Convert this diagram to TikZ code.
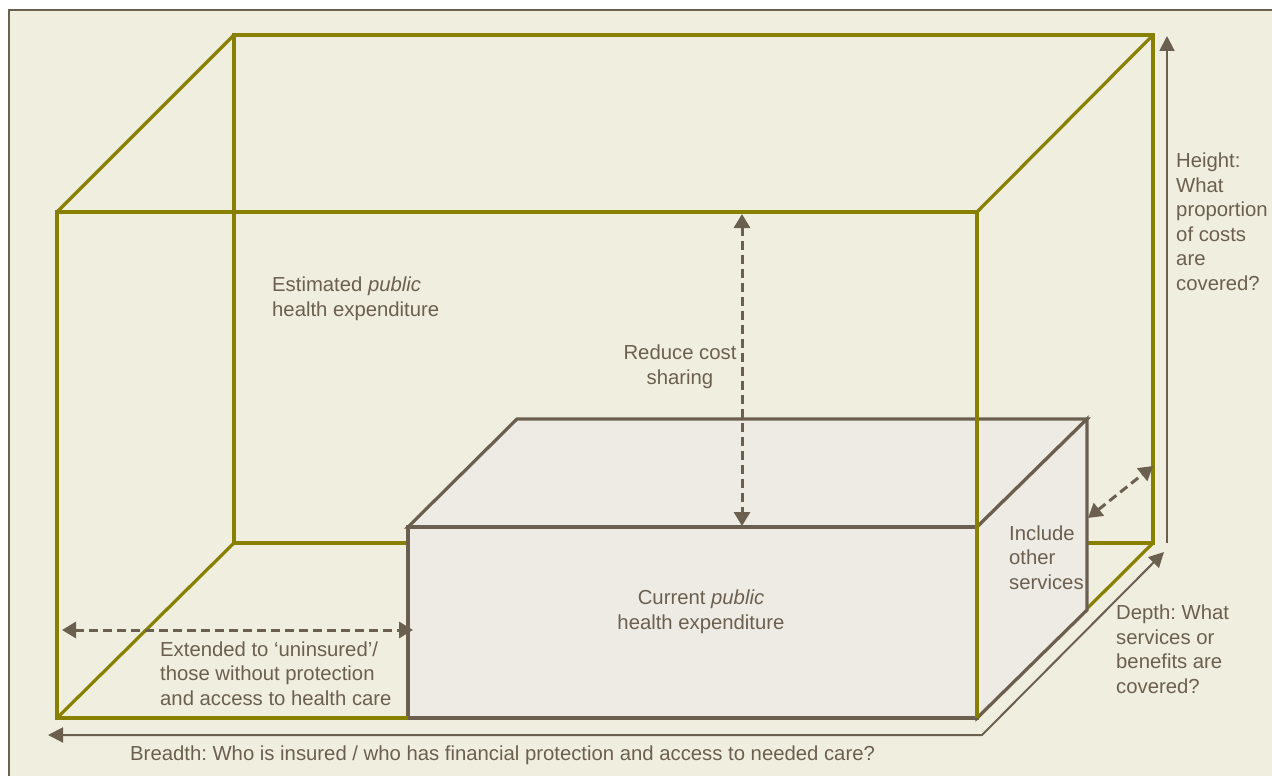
\documentclass[tikz,border=0pt]{standalone}
\usepackage{fontspec}
\setmainfont{Liberation Sans}
\usetikzlibrary{arrows.meta}
\definecolor{bg}{RGB}{240,238,222}
\definecolor{olv}{RGB}{136,128,0}
\definecolor{brn}{RGB}{107,96,80}
\definecolor{innerfill}{RGB}{238,235,229}
\frenchspacing
\begin{document}
\begin{tikzpicture}[x=1pt,y=-1pt,
  olive edge/.style={draw=olv,line width=3.2pt,line join=miter},
  inner edge/.style={draw=brn,line width=3.2pt,fill=innerfill,line join=miter},
  solid arrow/.style={draw=brn,line width=2pt},
  dashed arrow/.style={draw=brn,line width=3pt,dash pattern=on 9pt off 5pt,{Triangle[length=14pt,width=16pt]}-{Triangle[length=14pt,width=16pt]}},
  label/.style={text=brn,font=\fontsize{20.3}{24.5}\selectfont\frenchspacing,inner sep=0pt,align=left,anchor=base west},
  clabel/.style={text=brn,font=\fontsize{20.3}{24.5}\selectfont\frenchspacing,inner sep=0pt,align=center,anchor=base}]
\useasboundingbox (0,0) rectangle (1272,776);
\fill[white] (0,0) rectangle (1272,776);
\begin{scope}
\clip (0,0) rectangle (1272,776);
\draw[draw=brn,line width=2pt,fill=bg] (9,10) rectangle (1300,800);
\end{scope}
% outer box corners
\coordinate (F1) at (57,212);
\coordinate (F2) at (977,212);
\coordinate (F3) at (977,718);
\coordinate (F4) at (57,718);
\coordinate (B1) at (234,35);
\coordinate (B2) at (1153,35);
\coordinate (B3) at (1153,543);
\coordinate (B4) at (234,543);
% inner box corners
\coordinate (I1) at (408,527);
\coordinate (I2) at (977,527);
\coordinate (I3) at (977,718);
\coordinate (I4) at (408,718);
\coordinate (J1) at (517,419);
\coordinate (J2) at (1087,419);
\coordinate (J3) at (1087,610);
% back of outer box
\draw[olive edge] (B1) -- (B2) -- (B3) -- (B4) -- cycle;
\draw[olive edge] (F1) -- (B1);
\draw[olive edge] (F2) -- (B2);
\draw[olive edge] (F3) -- (B3);
\draw[olive edge] (F4) -- (B4);
% inner box
\draw[inner edge] (I1) -- (J1) -- (J2) -- (I2) -- cycle;
\draw[inner edge] (I2) -- (J2) -- (J3) -- (I3) -- cycle;
\draw[inner edge] (I1) -- (I2) -- (I3) -- (I4) -- cycle;
% front of outer box
\draw[olive edge] (I4) -- (F4) -- (F1) -- (F2) -- (F3);
% axis arrows
\coordinate (hb) at (1167,543);
\coordinate (ht) at (1167,36);
\draw[solid arrow,-{Triangle[length=15pt,width=15pt]}] (hb) -- (ht);
\coordinate (bl) at (48,735);
\coordinate (bc) at (982,735);
\coordinate (dt) at (1164,552);
\draw[solid arrow,line join=miter,{Triangle[length=15pt,width=15pt]}-{Triangle[length=15pt,width=15pt]}] (bl) -- (bc) -- (dt);
% dashed arrows
\coordinate (rt) at (742,214);
\coordinate (rb) at (742,526);
\draw[dashed arrow] (rt) -- (rb);
\coordinate (el) at (62,630);
\coordinate (er) at (413,630);
\draw[dashed arrow] (el) -- (er);
\coordinate (ds) at (1088,518);
\coordinate (de) at (1153,466);
\draw[dashed arrow] (ds) -- (de);
% labels (anchored at the baseline of their last line)
\node[label] (est) at (272,316) {Estimated \textit{public}\\health expenditure};
\node[clabel] (red) at (680,384) {Reduce cost\\sharing};
\node[clabel] (cur) at (701,629) {Current \textit{public}\\health expenditure};
\node[label] (inc) at (1009,589) {Include\\other\\services};
\node[label] (hgt) at (1176,290) {Height:\\What\\proportion\\of costs\\are\\covered?};
\node[label] (dep) at (1116,693) {Depth: What\\services or\\benefits are\\covered?};
\node[label] (ext) at (160,705) {Extended to ‘uninsured’/\\those without protection\\and access to health care};
\node[label] (brd) at (130,760) {Breadth: Who is insured / who has financial protection and access to needed care?};
\end{tikzpicture}
\end{document}
